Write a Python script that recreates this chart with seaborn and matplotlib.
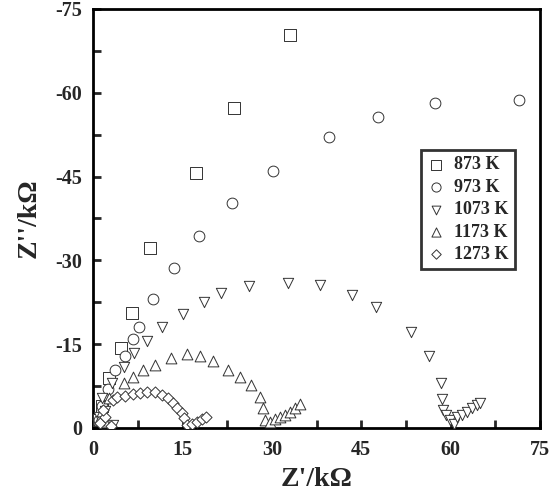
"""
Diagrama de Nyquist a diferents temperatures (873-1273 K).
"""
import pandas as pd
import matplotlib.pyplot as plt
import seaborn as sns
from matplotlib.ticker import MultipleLocator

# =========================
# DADES (Z' i Z'' en kOhm)
# =========================
zre_873 = [1.0, 1.5, 2.6, 4.6, 6.5, 9.6, 17.3, 23.7, 33.0]
zim_873 = [-1.5, -4.0, -8.9, -14.3, -20.5, -32.2, -45.6, -57.2, -70.3]

zre_973 = [1.0, 1.5, 2.5, 3.7, 5.3, 6.7, 7.6, 10.1, 13.6, 17.8, 23.3, 30.1,
           39.5, 47.8, 57.3, 71.5]
zim_973 = [-1.5, -4.0, -7.0, -10.4, -12.8, -15.9, -18.0, -23.1, -28.6, -34.4,
           -40.2, -46.0, -52.1, -55.6, -58.2, -58.7]

zre_1073 = [3.4, 1.0, 2.0, 1.5, 3.2, 5.1, 6.9, 9.0, 11.5, 15.0, 18.6, 21.5,
            26.2, 32.7, 38.0, 43.4, 47.4, 53.4, 56.4, 58.4, 58.6, 58.7, 59.3,
            59.9, 60.5, 61.0, 61.9, 62.7, 63.5, 64.4, 64.9]
zim_1073 = [-0.5, -2.0, -3.0, -5.3, -8.0, -11.0, -13.4, -15.6, -18.0, -20.4,
            -22.6, -24.1, -25.5, -25.9, -25.6, -23.8, -21.7, -17.2, -12.9, -8.0,
            -5.1, -3.2, -2.3, -1.4, -0.8, -2.0, -2.3, -2.9, -3.5, -4.1, -4.4]

zre_1173 = [2.0, 1.0, 1.5, 2.7, 5.1, 6.7, 8.4, 10.3, 13.1, 15.7, 18.0, 20.1,
            22.6, 24.7, 26.5, 28.0, 28.5, 28.9, 29.7, 30.5, 31.4, 32.2, 33.1,
            33.9, 34.7]
zim_1173 = [-1.0, -1.5, -3.0, -5.3, -8.0, -9.2, -10.4, -11.3, -12.5, -13.2,
            -12.9, -11.9, -10.4, -9.2, -7.7, -5.6, -3.6, -1.4, -1.1, -1.6, -1.9,
            -2.3, -2.9, -3.5, -4.3]

zre_1273 = [3.0, 1.2, 2.0, 1.7, 3.4, 4.0, 5.4, 6.7, 7.9, 9.1, 10.4, 11.5, 12.5,
            13.4, 14.1, 14.9, 15.3, 15.7, 16.6, 17.4, 18.2, 19.0]
zim_1273 = [-0.3, -0.9, -2.0, -3.2, -5.0, -5.6, -5.8, -6.0, -6.2, -6.5, -6.4,
            -5.9, -5.3, -4.5, -3.6, -2.6, -1.7, -0.5, -0.8, -1.1, -1.6, -2.0]

series = {
    '873 K': (zre_873, zim_873),
    '973 K': (zre_973, zim_973),
    '1073 K': (zre_1073, zim_1073),
    '1173 K': (zre_1173, zim_1173),
    '1273 K': (zre_1273, zim_1273),
}
markers = {'873 K': 's', '973 K': 'o', '1073 K': 'v', '1173 K': '^', '1273 K': 'D'}
mida = {'873 K': 80, '973 K': 60, '1073 K': 55, '1173 K': 60, '1273 K': 32}

rows = []
for temp, (zre, zim) in series.items():
    for a, b in zip(zre, zim):
        rows.append({'T': temp, 'zre': a, 'zim': b})
df = pd.DataFrame(rows)

# =========================
# GRÀFIC
# =========================
sns.set_style("ticks")
plt.rcParams['font.family'] = ['Liberation Serif', 'DejaVu Serif']
plt.rcParams['font.weight'] = 'bold'
plt.rcParams['axes.unicode_minus'] = False

fig = plt.figure(figsize=(5.55, 4.98), dpi=100)
ax = fig.add_axes([0.168, 0.1406, 0.805, 0.8414])

for temp in series:
    d = df[df['T'] == temp]
    sns.scatterplot(data=d, x='zre', y='zim', ax=ax, marker=markers[temp],
                    s=mida[temp], color='white', edgecolor='#333333',
                    linewidth=0.7, label=temp, zorder=3)

ax.set_xlim(0, 75)
ax.set_ylim(0, -75)
ax.xaxis.set_major_locator(MultipleLocator(15))
ax.xaxis.set_minor_locator(MultipleLocator(7.5))
ax.yaxis.set_major_locator(MultipleLocator(15))
ax.yaxis.set_minor_locator(MultipleLocator(7.5))
ax.tick_params(which='both', direction='in', length=6, width=2,
               top=False, right=False)
ax.tick_params(axis='x', labelsize=14.5, pad=9)
ax.tick_params(axis='y', labelsize=14.5, pad=8)
for lab in ax.get_xticklabels() + ax.get_yticklabels():
    lab.set_fontweight('bold')
for sp in ax.spines.values():
    sp.set_linewidth(2)
    sp.set_color('black')

ax.set_xlabel("Z'/kΩ", fontsize=20, fontweight='bold', labelpad=5)
ax.set_ylabel("Z''/kΩ", fontsize=20, fontweight='bold', labelpad=10)

leg = ax.legend(loc='upper left', bbox_to_anchor=(0.733, 0.663),
                borderaxespad=0, frameon=True, fancybox=False,
                prop={'size': 13, 'weight': 'bold'}, labelspacing=0.3,
                handletextpad=0.5, handlelength=1.0, borderpad=0.35,
                markerscale=0.85)
leg.get_frame().set_edgecolor('black')
leg.get_frame().set_linewidth(2)

fig.savefig("out.png", dpi=100)
